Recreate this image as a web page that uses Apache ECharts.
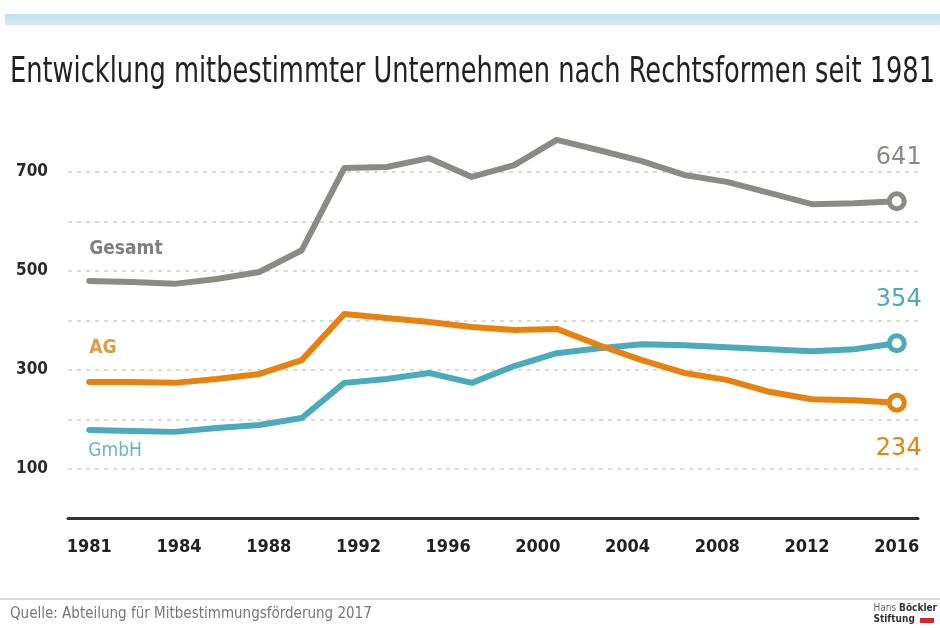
<!DOCTYPE html>
<html>
<head>
<meta charset="utf-8">
<script src="https://cdn.jsdelivr.net/npm/echarts@6/dist/echarts.min.js"></script>
<style>
html,body{margin:0;padding:0;background:#fff;}
#chart{width:940px;height:628px;}
</style>
</head>
<body>
<div id="chart"></div>
<script>
// ---- data ----
const years = ['1981','1982','1984','1986','1988','1990','1991','1993','1995','1997','1999','2001','2003','2005','2007','2009','2011','2013','2015','2016'];
const xTickLabels = ['1981','1984','1988','1992','1996','2000','2004','2008','2012','2016'];
const yTickLabels = [100, 300, 500, 700];
const gesamt = [480,478,474,484,498,542,708,710,728,690,714,765,744,722,694,680,658,635,637,641];
const ag     = [276,276,274,282,292,320,413,405,397,387,381,383,350,320,294,280,256,241,239,234];
const gmbh   = [179,177,175,183,189,203,274,282,294,274,308,334,344,352,350,346,342,338,342,354];
const titleText = 'Entwicklung mitbestimmter Unternehmen nach Rechtsformen seit 1981';
const sourceText = 'Quelle: Abteilung für Mitbestimmungsförderung 2017';

const COND = '"DejaVu Sans Condensed","Liberation Sans Narrow","Arial Narrow",sans-serif';
const colors = {Gesamt:'#8a8a87', AG:'#e8820f', GmbH:'#4aabbd'};
const nameColors = {Gesamt:'#808080', AG:'#e39a45', GmbH:'#6cb3c3'};
const nameStyle = {
  Gesamt:{offset:[0,-32], weight:'bold'},
  AG:{offset:[0,-34], weight:'bold'},
  GmbH:{offset:[-1,21], weight:'normal'}
};
const endOffset = {Gesamt:[2,-43], AG:[2,46], GmbH:[2,-44]};

const last = years.length - 1;
const xLabelPos = xTickLabels.map((_, i) => i * last / (xTickLabels.length - 1));

// fit title width like the condensed original
const TITLE_FONT = '36px ' + COND;
const mctx = document.createElement('canvas').getContext('2d');
mctx.font = TITLE_FONT;
const titleScale = 925 / mctx.measureText(titleText).width;

function makeSeries(name, values){
  const c = colors[name];
  return {
    name: name,
    type: 'line',
    data: values.map((v, i) => [i, v]),
    symbol: (val, p) => p.dataIndex === last ? 'circle' : 'none',
    symbolSize: 15,
    itemStyle: {color: '#fff', borderColor: c, borderWidth: 5},
    lineStyle: {color: c, width: 6, cap: 'round', join: 'round'},
    z: name === 'GmbH' ? 3 : 4,
    emphasis: {disabled: true},
    markPoint: {
      symbol: 'circle', symbolSize: 0, silent: true,
      data: [
        {coord: [0, values[0]], label: {show: true, position: 'right', distance: 0,
          offset: nameStyle[name].offset, formatter: name, color: nameColors[name],
          fontFamily: COND, fontSize: 19, fontWeight: nameStyle[name].weight}},
        {coord: [last, values[last]], label: {show: true, position: 'inside',
          offset: endOffset[name], formatter: String(values[last]), color: c,
          fontFamily: '"DejaVu Sans",sans-serif', fontSize: 24, fontWeight: 'normal'}}
      ]
    }
  };
}

const chart = echarts.init(document.getElementById('chart'), null, {renderer: 'canvas'});
chart.setOption({
  animation: false,
  backgroundColor: '#fff',
  grid: {left: 68, right: 22, top: 122.5, bottom: 109.5, containLabel: false},
  xAxis: {
    type: 'value', min: -0.5, max: last + 0.5,
    offset: 2.5,
    axisLine: {show: true, lineStyle: {color: '#333', width: 3}},
    axisTick: {show: false},
    splitLine: {show: false},
    axisLabel: {
      customValues: xLabelPos,
      formatter: v => xTickLabels[Math.round(v * (xTickLabels.length - 1) / last)],
      color: '#222', fontFamily: COND, fontWeight: 'bold', fontSize: 18, margin: 17
    }
  },
  yAxis: {
    type: 'value', min: 0, max: 800, interval: 100,
    axisLine: {show: false}, axisTick: {show: false},
    splitLine: {show: true, showMinLine: false, showMaxLine: false,
      lineStyle: {color: '#cfcfcf', width: 1.5, type: [4, 5]}},
    axisLabel: {
      formatter: v => yTickLabels.includes(v) ? String(v) : '',
      color: '#2a2a2a', fontFamily: COND, fontWeight: 'bold', fontSize: 17, margin: 20
    }
  },
  series: [makeSeries('Gesamt', gesamt), makeSeries('AG', ag), makeSeries('GmbH', gmbh)],
  graphic: [
    {type: 'rect', shape: {x: 5, y: 14, width: 935, height: 11},
      style: {fill: new echarts.graphic.LinearGradient(0,0,0,1,[{offset:0,color:'#c3e1ed'},{offset:1,color:'#d6ebf3'}])}},
    {type: 'text', x: 10, y: 55, scaleX: titleScale, style: {text: titleText, fill: '#222',
      font: TITLE_FONT}},
    {type: 'rect', shape: {x: 0, y: 598, width: 940, height: 2}, style: {fill: '#dcdcdc'}},
    {type: 'text', left: 10, top: 607, style: {text: sourceText, fill: '#777',
      font: '15px ' + COND}},
    {type: 'text', right: 3, top: 603, style: {
      text: '{r|Hans }{b|Böckler}\n{b|Stiftung}',
      rich: {r: {fontFamily: COND, fontSize: 10, fill: '#666', lineHeight: 11},
             b: {fontFamily: COND, fontSize: 10, fontWeight: 'bold', fill: '#333', lineHeight: 11}},
      align: 'left'}},
    {type: 'rect', shape: {x: 920, y: 618, width: 14, height: 5}, style: {fill: '#d9262e'}}
  ]
});
</script>
</body>
</html>
